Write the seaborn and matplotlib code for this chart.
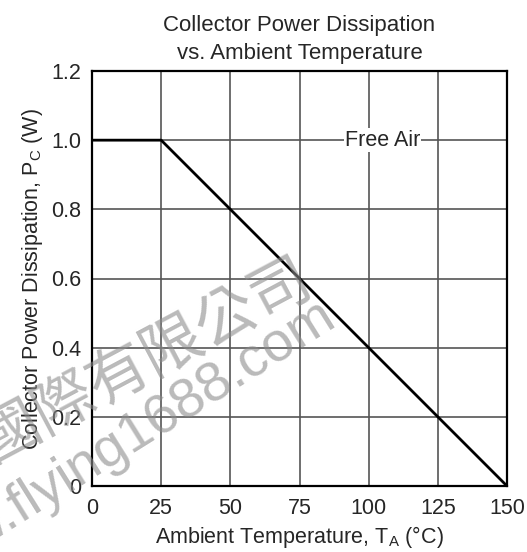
import seaborn as sns
import matplotlib.pyplot as plt
import pandas as pd

# derating curve
temp = [0, 25, 150]
power = [1.0, 1.0, 0.0]
x_ticks = [0, 25, 50, 75, 100, 125, 150]
y_ticks = [0, 0.2, 0.4, 0.6, 0.8, 1.0, 1.2]
y_tick_labels = ["0", "0.2", "0.4", "0.6", "0.8", "1.0", "1.2"]

df = pd.DataFrame({"temp": temp, "power": power})

sns.set_style("white")
plt.rcParams['font.family'] = ['Liberation Sans', 'DejaVu Sans']
plt.rcParams['mathtext.fontset'] = 'custom'
plt.rcParams['mathtext.rm'] = 'Liberation Sans'

fig = plt.figure(figsize=(5.27, 5.52), dpi=100)
ax = fig.add_axes([92 / 527, 1 - 486 / 552, 415 / 527, 415 / 552])

# grid
for xv in x_ticks[1:-1]:
    ax.axvline(xv, color="#555555", lw=1.2, zorder=1)
for yv in y_ticks[1:-1]:
    ax.axhline(yv, color="#555555", lw=1.2, zorder=1)

# main curve
sns.lineplot(data=df, x="temp", y="power", color="black", lw=2, ax=ax, zorder=3)

ax.text(105, 1.0, "Free Air", fontsize=15.5, ha="center", va="center",
        bbox=dict(facecolor="white", edgecolor="none", pad=1), zorder=4)

ax.set_xlim(0, 150)
ax.set_ylim(0, 1.2)
ax.set_xticks(x_ticks)
ax.set_yticks(y_ticks)
ax.set_yticklabels(y_tick_labels)
ax.tick_params(axis="y", labelsize=15.5, length=0, pad=8)
ax.tick_params(axis="x", labelsize=15.5, length=0, pad=9)
for s in ax.spines.values():
    s.set_color("black")
    s.set_linewidth(1.6)

ax.set_xlabel("Ambient Temperature, T$_\\mathrm{A}$ (°C)", fontsize=15.5, labelpad=3)
ax.set_ylabel("Collector Power Dissipation, P$_\\mathrm{C}$ (W)", fontsize=15.5, labelpad=4)
ax.set_title("Collector Power Dissipation\nvs. Ambient Temperature", fontsize=16,
             linespacing=1.4, pad=9)

# watermark
fig.text(145 / 527, 1 - 360 / 552, "國際有限公司", fontsize=44, color="#8c8c8c", alpha=0.6,
         rotation=28, ha="center", va="center", rotation_mode="anchor",
         family=["Noto Sans CJK TC", "DejaVu Sans"], zorder=10)
fig.text(338 / 527, 1 - 325 / 552, "www.flying1688.com", fontsize=40, color="#8c8c8c",
         alpha=0.6, rotation=32, ha="right", va="baseline", rotation_mode="anchor",
         zorder=10)

fig.savefig("out.png", dpi=100)
